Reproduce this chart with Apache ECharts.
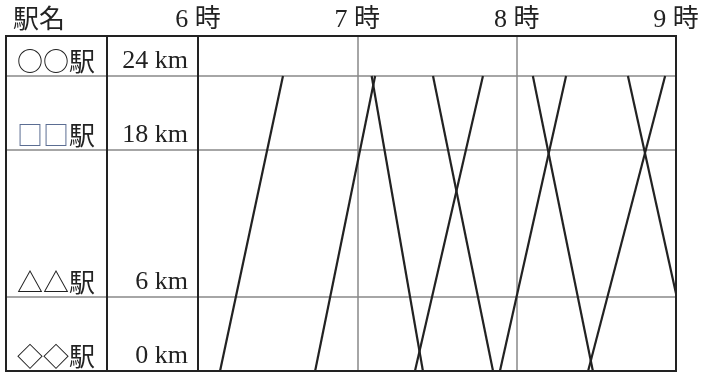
<!DOCTYPE html>
<html>
<head>
<meta charset="utf-8">
<script src="https://cdn.jsdelivr.net/npm/echarts@6/dist/echarts.min.js"></script>
<style>html,body{margin:0;padding:0;background:#fff}#c{width:709px;height:374px}</style>
</head>
<body>
<div id="c"></div>
<script>
// Stations (name, distance in km)
const stationNames = ['○○駅', '□□駅', '△△駅', '◇◇駅'];
const stationKm = [24, 18, 6, 0];
// Time axis: minutes since midnight (6時 .. 9時)
const timeMin = 360, timeMax = 540, hourStep = 60;
// Up trains: [time at 0 km, time at 24 km] (minutes)
const upTrains = [[368.3, 392.0], [404.1, 426.7], [441.7, 467.3], [473.7, 498.6], [506.9, 535.9]];
// Down trains: [time at 24 km, time at 0 km] (minutes)
const downTrains = [[425.4, 444.7], [448.5, 471.1], [486.1, 508.7]];
// Last down train, leaving the chart at 9時: [[time, km], ...]
const lastDown = [[521.9, 24], [540, 6.3]];
const kmMax = 27.25;

const FONT = "'Liberation Serif','Noto Sans CJK JP',serif";
const CJK = "'Noto Sans CJK JP',sans-serif";
const INK = '#222';
const GRAY = '#888';

const chart = echarts.init(document.getElementById('c'), null, {renderer: 'canvas'});

function hLines(withLabels, fmt, dist, font) {
  return {
    silent: true,
    symbol: ['none', 'none'],
    animation: false,
    lineStyle: {color: GRAY, type: 'solid', width: 1.5},
    label: {
      show: withLabels,
      position: 'insideEndTop',
      distance: dist,
      color: INK,
      fontFamily: font,
      fontSize: 26,
      formatter: fmt,
      rich: {sq: {color: '#5b6d92', fontFamily: font, fontSize: 26}}
    },
    data: stationKm.map((km, i) => ({
      yAxis: km,
      name: stationNames[i],
      value: km,
      lineStyle: km === 0 ? {color: 'rgba(0,0,0,0)'} : undefined
    }))
  };
}

const trainSeries = [];
upTrains.forEach(t => trainSeries.push([[t[0], 0], [t[1], 24]]));
downTrains.forEach(t => trainSeries.push([[t[0], 24], [t[1], 0]]));
trainSeries.push(lastDown);

const gridCommon = {top: 36, bottom: 3, show: true, borderColor: INK, borderWidth: 2, containLabel: false, z: 10};

chart.setOption({
  animation: false,
  backgroundColor: '#fff',
  title: {text: '駅名', left: 8, top: 0, textStyle: {fontFamily: CJK, fontSize: 26, fontWeight: 'normal', color: INK}},
  grid: [
    Object.assign({left: 6, width: 101}, gridCommon),
    Object.assign({left: 107, width: 91}, gridCommon),
    Object.assign({left: 198, right: 33}, gridCommon)
  ],
  xAxis: [
    {gridIndex: 0, type: 'value', min: 0, max: 1, show: false},
    {gridIndex: 1, type: 'value', min: 0, max: 1, show: false},
    {gridIndex: 2, type: 'value', min: timeMin, max: timeMax, interval: hourStep, position: 'top',
      axisLine: {show: false}, axisTick: {show: false},
      splitLine: {show: true, showMinLine: false, showMaxLine: false, lineStyle: {color: GRAY, width: 1.5}},
      axisLabel: {margin: 3, color: INK, fontFamily: FONT, fontSize: 26,
        formatter: v => Math.round(v / 60) + ' 時'}}
  ],
  yAxis: [0, 1, 2].map(i => ({gridIndex: i, type: 'value', min: 0, max: kmMax, show: false, splitLine: {show: false}})),
  series: [
    {type: 'line', xAxisIndex: 0, yAxisIndex: 0, data: [], silent: true,
      markLine: hLines(true, p => p.name.indexOf('□') >= 0 ? '{sq|' + p.name.replace('駅', '') + '}駅' : p.name, [12, 2], CJK)},
    {type: 'line', xAxisIndex: 1, yAxisIndex: 1, data: [], silent: true,
      markLine: hLines(true, p => p.value + ' km', [10, 2], FONT)},
    {type: 'line', xAxisIndex: 2, yAxisIndex: 2, data: [], silent: true,
      markLine: hLines(false, p => '', 0, FONT)}
  ].concat(trainSeries.map(d => ({
    type: 'line', xAxisIndex: 2, yAxisIndex: 2, data: d, symbol: 'none', silent: true, clip: true,
    lineStyle: {color: INK, width: 2.2}, z: 5
  })))
});
</script>
</body>
</html>
